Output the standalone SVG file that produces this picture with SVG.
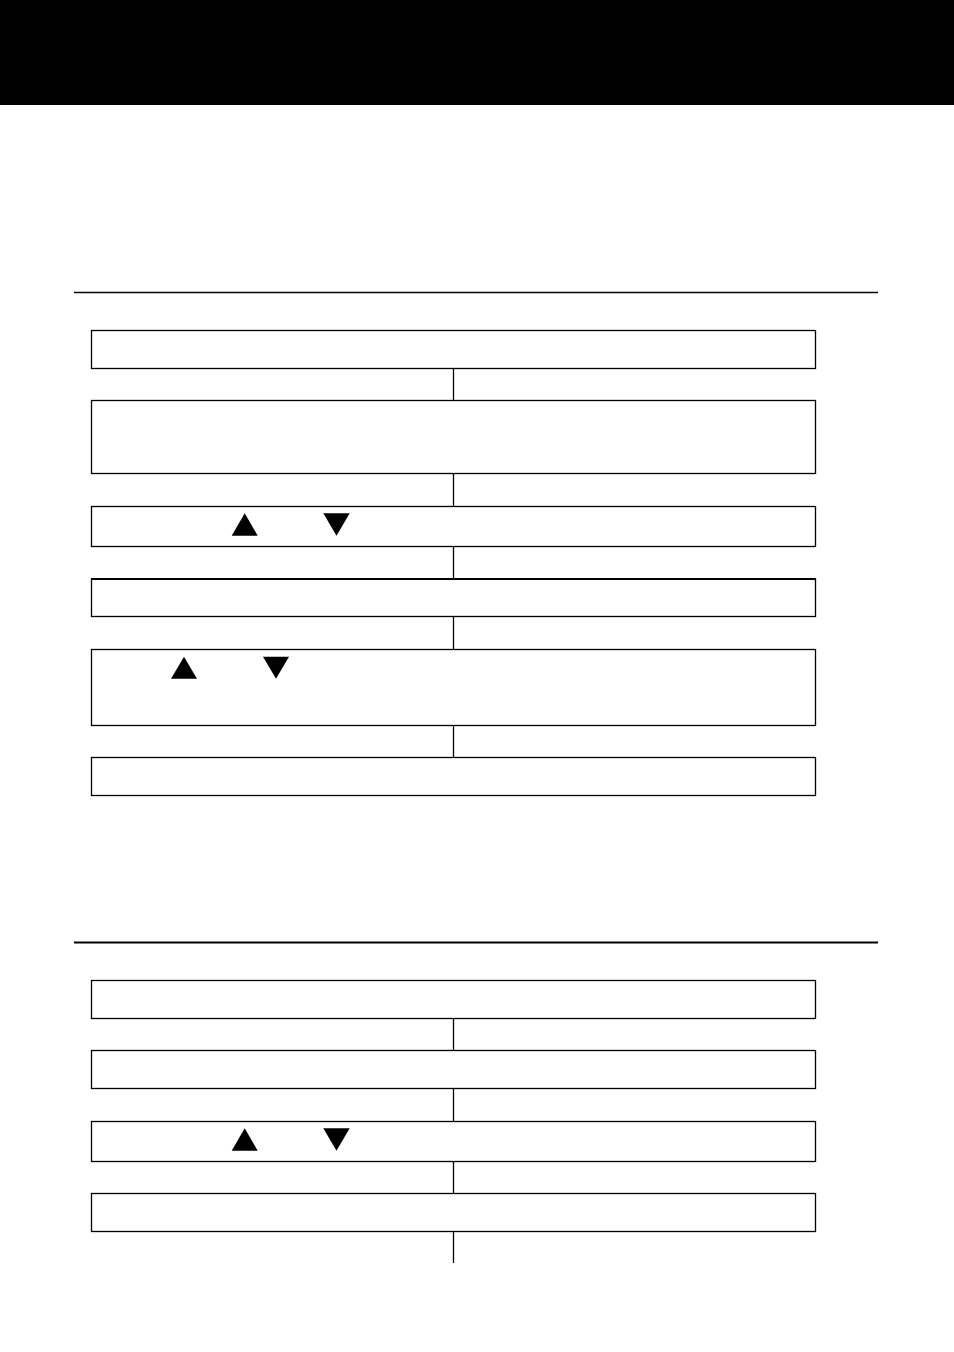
<svg xmlns="http://www.w3.org/2000/svg" width="954" height="1352" viewBox="0 0 954 1352">
<style>
.box{fill:#fff;stroke:#000;stroke-width:1.3}
.conn{stroke:#000;stroke-width:1.3;fill:none}
.rule{stroke:#000;fill:none}
.tri{fill:#000}
</style>
<rect x="0" y="0" width="954" height="1352" fill="#fff"/>
<rect id="header" x="0" y="0" width="954" height="105" fill="#000"/>
<line class="rule" x1="74" y1="292.5" x2="878" y2="292.5" stroke-width="1.3"/>
<line class="rule" x1="74" y1="942.5" x2="878" y2="942.5" stroke-width="2"/>
<g id="connectors">
<line class="conn" x1="453.5" y1="368" x2="453.5" y2="400"/>
<line class="conn" x1="453.5" y1="473" x2="453.5" y2="506"/>
<line class="conn" x1="453.5" y1="546" x2="453.5" y2="579"/>
<line class="conn" x1="453.5" y1="616" x2="453.5" y2="649"/>
<line class="conn" x1="453.5" y1="725" x2="453.5" y2="757"/>
<line class="conn" x1="453.5" y1="1018" x2="453.5" y2="1050"/>
<line class="conn" x1="453.5" y1="1088" x2="453.5" y2="1121"/>
<line class="conn" x1="453.5" y1="1161" x2="453.5" y2="1193"/>
<line class="conn" x1="453.5" y1="1231" x2="453.5" y2="1263"/>
</g>
<g id="n1"><rect class="box" x="91.5" y="330.5" width="724" height="38"/></g>
<g id="n2"><rect class="box" x="91.5" y="400.5" width="724" height="73"/></g>
<g id="n3"><rect class="box" x="91.5" y="506.5" width="724" height="40"/>
<polygon class="tri" points="244.7,513.3 257.7,535.7 231.7,535.7"/>
<polygon class="tri" points="323.3,513.3 349.7,513.3 336.5,535.7"/></g>
<g id="n4"><rect class="box" x="91.5" y="579" width="724" height="37.5" style="stroke-width:1.3"/>
<line x1="91" y1="579" x2="816" y2="579" stroke="#000" stroke-width="2"/></g>
<g id="n5"><rect class="box" x="91.5" y="649.5" width="724" height="76"/>
<polygon class="tri" points="184,656.7 197,678.7 171,678.7"/>
<polygon class="tri" points="263,656.7 289,656.7 276,678.7"/></g>
<g id="n6"><rect class="box" x="91.5" y="757.5" width="724" height="38"/></g>
<g id="n7"><rect class="box" x="91.5" y="980.5" width="724" height="38"/></g>
<g id="n8"><rect class="box" x="91.5" y="1050.5" width="724" height="38"/></g>
<g id="n9"><rect class="box" x="91.5" y="1121.5" width="724" height="40"/>
<polygon class="tri" points="244.7,1128.3 257.7,1150.7 231.7,1150.7"/>
<polygon class="tri" points="323.3,1128.3 349.7,1128.3 336.5,1150.7"/></g>
<g id="n10"><rect class="box" x="91.5" y="1193.5" width="724" height="38"/></g>
</svg>
